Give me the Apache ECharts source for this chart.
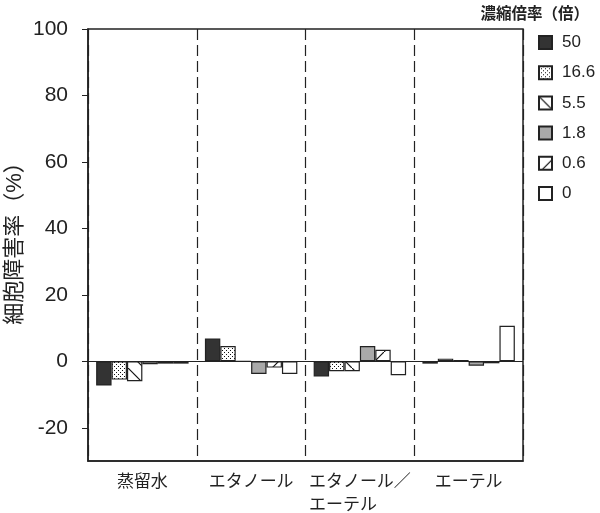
<!DOCTYPE html>
<html>
<head>
<meta charset="utf-8">
<script src="https://cdn.jsdelivr.net/npm/echarts@6/dist/echarts.min.js"></script>
<style>
html,body{margin:0;padding:0;background:#fff;}
#main{width:600px;height:513px;}
</style>
</head>
<body>
<div id="main"></div>
<script>
// データ
var categories = ['蒸留水', 'エタノール', 'エタノール／\nエーテル　　', 'エーテル'];
var seriesNames = ['50', '16.6', '5.5', '1.8', '0.6', '0'];
var v50  = [-7.3, 6.9, -4.6, -0.7];
var v166 = [-5.5, 4.6, -3.0, 0.8];
var v55  = [-6.0, 0, -3.0, 0.4];
var v18  = [-0.9, -3.8, 4.6, -1.3];
var v06  = [-0.7, -1.9, 3.5, -0.6];
var v0   = [-0.7, -3.8, -4.2, 10.7];
var yTicks = [-20, 0, 20, 40, 60, 80, 100];

var FONT = "'Liberation Sans', 'Noto Sans CJK JP', sans-serif";

// 塗りパターン
function makePattern(kind){
	var c = document.createElement('canvas');
	var ctx;
	if(kind == 'dots'){
		c.width = 4; c.height = 4;
		ctx = c.getContext('2d');
		ctx.fillStyle = '#fff';
		ctx.fillRect(0, 0, 4, 4);
		ctx.fillStyle = '#111';
		ctx.fillRect(0, 0, 1, 1);
		ctx.fillRect(2, 2, 1, 1);
	}else{
		c.width = 16; c.height = 16;
		ctx = c.getContext('2d');
		ctx.fillStyle = '#fff';
		ctx.fillRect(0, 0, 16, 16);
		ctx.strokeStyle = '#111';
		ctx.lineWidth = 1.2;
		ctx.beginPath();
		if(kind == 'back'){
			ctx.moveTo(0, 0); ctx.lineTo(16, 16);
		}else{
			ctx.moveTo(0, 16); ctx.lineTo(16, 0);
		}
		ctx.stroke();
	}
	return {image: c, repeat: 'repeat'};
}

var fills = [
	'#333333',
	makePattern('dots'),
	makePattern('back'),
	'#a9a9a9',
	makePattern('fwd'),
	'#ffffff'
];
var values = [v50, v166, v55, v18, v06, v0];

var series = [];
for(var i = 0; i < seriesNames.length; i++){
	var s = {
		name: seriesNames[i],
		type: 'bar',
		data: values[i],
		barGap: '0%',
		barCategoryGap: '15%',
		itemStyle: {color: fills[i], borderColor: '#222', borderWidth: 1.2},
		emphasis: {disabled: true}
	};
	// 0 のライン
	if(i == 0){
		s.markLine = {
			silent: true,
			symbol: 'none',
			label: {show: false},
			lineStyle: {color: '#222', type: 'solid', width: 1.2},
			data: [{yAxis: 0}]
		};
	}
	series.push(s);
}

var myChart = echarts.init(document.getElementById('main'));
var option = {
	animation: false,
	textStyle: {fontFamily: FONT},
	title: {
		text: '濃縮倍率（倍）',
		right: 6,
		top: 2,
		textStyle: {fontFamily: FONT, fontSize: 15.5, fontWeight: 'bold', color: '#222'}
	},
	legend: {
		orient: 'vertical',
		left: 533,
		top: 29,
		itemWidth: 13,
		itemHeight: 13,
		itemGap: 13.2,
		icon: 'rect',
		data: seriesNames,
		textStyle: {fontFamily: FONT, fontSize: 17, color: '#222', padding: [0, 0, 0, 5]}
	},
	grid: {
		left: 88, right: 77, top: 29, bottom: 52,
		show: true,
		borderColor: '#222',
		borderWidth: 1.5,
		containLabel: false,
		outerBoundsMode: 'none'
	},
	xAxis: {
		type: 'category',
		data: categories,
		boundaryGap: true,
		axisLine: {onZero: false, lineStyle: {color: '#222', width: 1.5}},
		axisTick: {show: false},
		axisLabel: {
			interval: 0,
			margin: 10,
			fontFamily: FONT,
			fontSize: 17,
			lineHeight: 23,
			color: '#222'
		},
		splitLine: {show: true, lineStyle: {color: '#222', type: [11, 5], width: 1.2}}
	},
	yAxis: {
		type: 'value',
		min: -30,
		max: 100,
		interval: 10,
		name: '細胞障害率（%）',
		nameLocation: 'middle',
		nameGap: 62,
		nameMoveOverlap: false,
		nameTextStyle: {fontFamily: FONT, fontSize: 22, color: '#222', padding: [0, 0, 0, 14]},
		axisLine: {show: true, lineStyle: {color: '#222', width: 1.5}},
		axisTick: {show: true, length: 6, customValues: yTicks, lineStyle: {color: '#222'}},
		axisLabel: {customValues: yTicks, margin: 20, fontFamily: FONT, fontSize: 21, color: '#222'},
		splitLine: {show: false}
	},
	series: series
};
myChart.setOption(option);
</script>
</body>
</html>
